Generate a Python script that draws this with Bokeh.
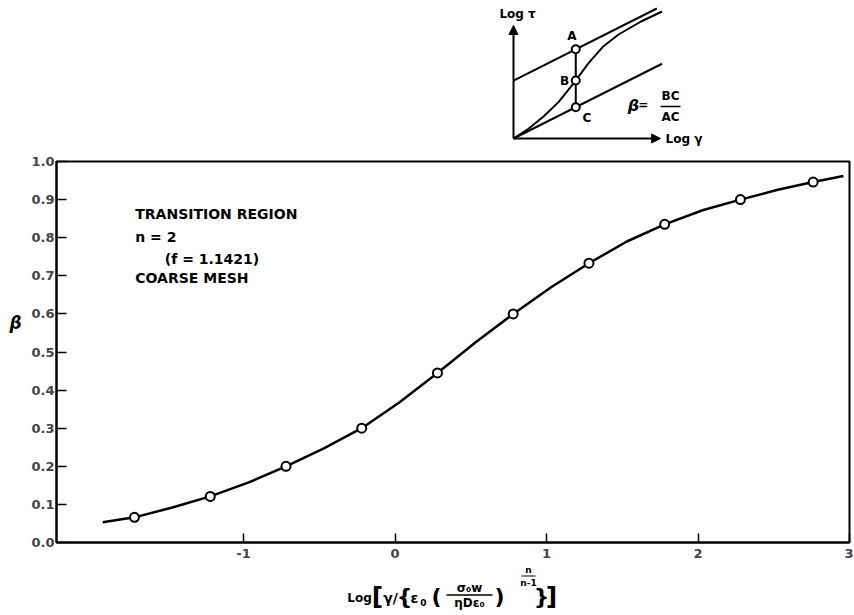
from bokeh.plotting import figure
from bokeh.models import (Range1d, FixedTicker, NumeralTickFormatter, Arrow, NormalHead, Spacer,
                          ColumnDataSource)
from bokeh.layouts import column, row
from bokeh.core.properties import value
from bokeh.embed import file_html
from bokeh.resources import INLINE

# ---- main data ----
pts_x = [-1.72, -1.22, -0.72, -0.22, 0.28, 0.78, 1.28, 1.78, 2.28, 2.76]
pts_y = [0.066, 0.121, 0.200, 0.300, 0.445, 0.600, 0.733, 0.835, 0.900, 0.946]
curve_x = [-1.93, -1.72, -1.47, -1.22, -0.97, -0.72, -0.47, -0.22, 0.03, 0.28, 0.53,
           0.78, 1.03, 1.28, 1.53, 1.78, 2.03, 2.28, 2.52, 2.76, 2.96]
curve_y = [0.053, 0.066, 0.092, 0.121, 0.157, 0.200, 0.247, 0.300, 0.368, 0.445, 0.525,
           0.600, 0.670, 0.733, 0.790, 0.835, 0.872, 0.900, 0.925, 0.946, 0.962]
x_ticks = [-1, 0, 1, 2, 3]
x_tick_labels = ["-1", "0", "1", "2", "3"]
y_ticks = [0.0, 0.1, 0.2, 0.3, 0.4, 0.5, 0.6, 0.7, 0.8, 0.9, 1.0]
note_lines = ["TRANSITION REGION", "n = 2", "(f = 1.1421)", "COARSE MESH"]

# ---- inset schematic (unitless Log gamma / Log tau) ----
ins_upper_x = [0.0, 0.955]
ins_upper_y = [0.446, 1.0]
ins_lower_x = [0.0, 0.99]
ins_lower_y = [0.0, 0.575]
ins_s_x = [0.0, 0.1, 0.2, 0.3, 0.415, 0.5, 0.6, 0.7, 0.85, 0.99]
ins_s_y = [0.0, 0.075, 0.17, 0.28, 0.446, 0.58, 0.71, 0.80, 0.90, 0.977]
abc_x = [0.415, 0.415, 0.415]
abc_y = [0.687, 0.446, 0.241]

FONT = value("DejaVu Sans")
X0, X1 = -2.235, 3.0
FRAME_L, FRAME_R = 55, 849
PX = (FRAME_R - FRAME_L) / (X1 - X0)


def xd(px):
    return X0 + (px - FRAME_L) / PX


# ---------------- inset figure ----------------
ins = figure(width=260, height=148, x_range=Range1d(-0.22, 1.513), y_range=Range1d(-0.0769, 1.0615),
             x_axis_type=None, y_axis_type=None, output_backend="svg", toolbar_location=None,
             min_border=0, outline_line_color=None)
ins.grid.visible = False
ins.line(ins_upper_x, ins_upper_y, line_color="black", line_width=2)
ins.line(ins_lower_x, ins_lower_y, line_color="black", line_width=2)
ins.line(ins_s_x, ins_s_y, line_color="black", line_width=2)
ins.line(abc_x, abc_y, line_color="black", line_width=2)
ins.scatter(abc_x, abc_y, size=8, marker="circle", fill_color="white", line_color="black", line_width=2)
ins.add_layout(Arrow(end=NormalHead(size=9, fill_color="black", line_color="black"),
                     x_start=0, y_start=0, x_end=0, y_end=0.87, line_width=2, line_color="black"))
ins.add_layout(Arrow(end=NormalHead(size=9, fill_color="black", line_color="black"),
                     x_start=0, y_start=0, x_end=0.98, y_end=0, line_width=2, line_color="black"))
ins_lab = ColumnDataSource(dict(
    x=[0.39, 0.34, 0.49, 0.027, 1.013, 0.80, 0.865, 1.047, 1.047],
    y=[0.79, 0.446, 0.16, 0.96, 0.0, 0.254, 0.254, 0.325, 0.165],
    t=["A", "B", "C", "Log τ", "Log γ", "β", "=", "BC", "AC"],
    a=["center", "center", "center", "center", "left", "center", "center", "center", "center"],
    s=["12px", "12px", "12px", "12px", "12px", "16px", "12px", "12px", "12px"],
    st=["bold", "bold", "bold", "bold", "bold", "bold italic", "bold", "bold", "bold"],
))
ins.text(x="x", y="y", text="t", text_align="a", text_font_size="s", text_baseline="middle",
         text_font=FONT, text_font_style="st", text_color="black", source=ins_lab)
ins.line([0.98, 1.113], [0.246, 0.246], line_color="black", line_width=1.5)

# ---------------- main figure ----------------
p = figure(width=825, height=416, x_range=Range1d(X0, X1), y_range=Range1d(0.0, 1.0),
           output_backend="svg", toolbar_location=None,
           min_border_left=27, min_border_right=4, min_border_top=13, min_border_bottom=22)
p.grid.visible = False
p.outline_line_color = "black"
p.outline_line_width = 2

p.line(curve_x, curve_y, line_color="black", line_width=2.5)
p.scatter(pts_x, pts_y, size=9, marker="circle", fill_color="white", line_color="black", line_width=2)

note_src = ColumnDataSource(dict(
    x=[-1.715, -1.715, -1.52, -1.715],
    y=[0.8635, 0.801, 0.743, 0.693],
    t=note_lines,
))
p.text(x="x", y="y", text="t", source=note_src, text_font=FONT, text_font_style="bold",
       text_font_size="14px", text_baseline="middle", text_align="left", text_color="black")

xa = p.xaxis[0]
xa.ticker = FixedTicker(ticks=x_ticks)
xa.major_label_overrides = {t: s for t, s in zip(x_ticks, x_tick_labels)}
xa.major_tick_in = 9
xa.major_tick_out = 0
xa.minor_tick_in = 0
xa.minor_tick_out = 0
xa.axis_line_width = 2
xa.major_tick_line_width = 1.5
xa.major_label_standoff = 6
xa.major_label_text_font = "DejaVu Sans"
xa.major_label_text_font_style = "bold"
xa.major_label_text_font_size = "13px"

ya = p.yaxis[0]
ya.ticker = FixedTicker(ticks=y_ticks)
ya.formatter = NumeralTickFormatter(format="0.0")
ya.major_tick_in = 10
ya.major_tick_out = 0
ya.minor_tick_in = 0
ya.minor_tick_out = 0
ya.axis_line_width = 2
ya.major_tick_line_width = 1.5
ya.major_label_standoff = 2
ya.major_label_text_font = "DejaVu Sans"
ya.major_label_text_font_style = "bold"
ya.major_label_text_font_size = "13px"

# ---------------- y-axis label beta (left strip, same y scale) ----------------
bfig = figure(width=28, height=416, x_range=Range1d(0, 28), y_range=p.y_range,
              x_axis_type=None, y_axis_type=None, output_backend="svg", toolbar_location=None,
              min_border_left=0, min_border_right=0, min_border_top=13, min_border_bottom=22,
              outline_line_color=None)
bfig.grid.visible = False
bfig.text(x=[15], y=[0.575], text=["β"], text_font=FONT, text_font_style="bold italic",
          text_font_size="17px", text_align="center", text_baseline="middle", text_color="black")

# ---------------- x-axis label (composite math expression) ----------------
xf = figure(width=853, height=50, x_range=p.x_range, y_range=Range1d(614, 564),
            x_axis_type=None, y_axis_type=None, output_backend="svg", toolbar_location=None,
            min_border_left=FRAME_L, min_border_right=853 - FRAME_R, min_border_top=0,
            min_border_bottom=0, outline_line_color=None)
xf.grid.visible = False
piece_px = [359, 377, 390, 404, 414, 423, 436, 469, 469, 499, 528, 528, 541, 551]
xl = ColumnDataSource(dict(
    x=[xd(v) for v in piece_px],
    y=[597, 596, 597, 596, 597, 602, 596, 587, 602, 596, 569, 582, 596, 596],
    t=["Log", "[", "γ/", "{", "ε", "0", "(", "σ₀w", "ηDε₀", ")", "n", "n-1", "}", "]"],
    s=["12px", "25px", "14px", "22px", "14px", "9px", "22px", "12px", "12px", "22px",
       "9px", "9px", "22px", "25px"],
))
xf.text(x="x", y="y", text="t", text_font_size="s", source=xl, text_font=FONT,
        text_font_style="bold", text_baseline="middle", text_align="center", text_color="black")
xf.line([xd(446), xd(492)], [594.5, 594.5], line_color="black", line_width=1.5)
xf.line([xd(521), xd(535)], [575.5, 575.5], line_color="black", line_width=1.2)

layout = column(row(Spacer(width=480, height=148), ins), row(bfig, p), xf)
open("out.html", "w").write(file_html(layout, INLINE))
